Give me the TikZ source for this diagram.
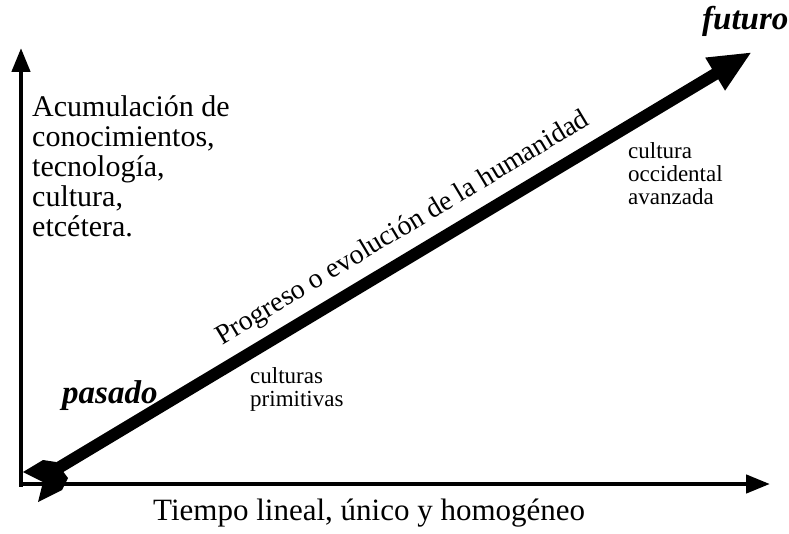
\documentclass[tikz,border=0pt]{standalone}
\usepackage{fontspec}
\setmainfont{Liberation Serif}
\usetikzlibrary{arrows.meta,calc}
\tikzset{
  axis/.style     = {line width=4.5pt, -{Triangle[length=24pt,width=18pt]}},
  progress/.style = {line width=12pt, -{Triangle[length=43pt,width=35pt]}},
  bigtxt/.style   = {font=\fontsize{30}{30}\selectfont, inner sep=0pt, align=left},
  smalltxt/.style = {font=\fontsize{23}{23}\selectfont, inner sep=0pt, align=left},
  era/.style      = {font=\fontsize{33}{33}\selectfont\bfseries\itshape, inner sep=0pt},
}

\begin{document}
\begin{tikzpicture}[x=1pt,y=1pt]
\useasboundingbox (0,0) rectangle (789,533);

\coordinate (corner) at (21,46.5);
\coordinate (ytip) at (21,485);
\coordinate (xstart) at (19,49);
\coordinate (xtip) at (770,49);
\coordinate (tail) at (45,57);
\coordinate (head) at (752,481);

\draw[axis] (corner) -- (ytip);
\draw[axis] (xstart) -- (xtip);
\draw[progress] (tail) -- (head);
% notched tail of the progress arrow
\fill (23,61) -- (43,73) -- (56,71) -- (68,55) -- (62,43) -- (38,31) -- (43,51) -- cycle;

\node[bigtxt, anchor=north west] (acum) at (32,438)
  {Acumulación de\\conocimientos,\\tecnología,\\cultura,\\etcétera.};
\node[font=\fontsize{28}{28}\selectfont, inner sep=0pt, anchor=base, rotate=30.94]
  (progreso) at (406.5,298.3) {Progreso o evolución de la humanidad};
\node[smalltxt, anchor=north west] (occid) at (628,391) {cultura\\occidental\\avanzada};
\node[smalltxt, anchor=north west] (primit) at (250,166) {culturas\\primitivas};
\node[era, anchor=base west] (pasado) at (62,130) {pasado};
\node[era, anchor=base west] (futuro) at (702,503) {futuro};
\node[font=\fontsize{31}{31}\selectfont, inner sep=0pt, anchor=base west]
  (tiempo) at (153,13) {Tiempo lineal, único y homogéneo};

\end{tikzpicture}
\end{document}
